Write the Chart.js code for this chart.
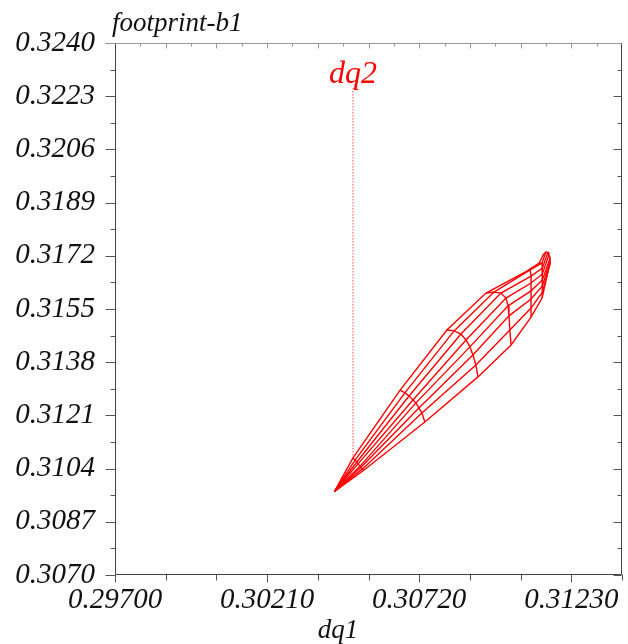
<!DOCTYPE html>
<html lang="en">
<head>
<meta charset="UTF-8">
<title>footprint-b1</title>
<script src="https://cdn.jsdelivr.net/npm/chart.js"></script>
<style>
  body { margin: 0; background: #fff; }
  #wrap { width: 628px; height: 644px; }
</style>
</head>
<body>
<div id="wrap"><canvas id="myChart" width="628" height="644"></canvas></div>
<script>
// axis ticks
const xTicks = [0.29700, 0.30210, 0.30720, 0.31230];
const yTicks = [0.3070, 0.3087, 0.3104, 0.3121, 0.3138, 0.3155, 0.3172, 0.3189, 0.3206, 0.3223, 0.3240];

// footprint mesh: every ring starts at the origin, node j lies on angle line j
const originX = 0.30436, originY = 0.30967;
const ring1X = [0.30498, 0.30505, 0.30511, 0.30515, 0.30522, 0.30525, 0.30530, 0.30533];
const ring1Y = [0.31074, 0.31067, 0.31061, 0.31055, 0.31048, 0.31044, 0.31039, 0.31034];
const ring2X = [0.30656, 0.30672, 0.30686, 0.30699, 0.30709, 0.30719, 0.30729, 0.30739];
const ring2Y = [0.31291, 0.31282, 0.31272, 0.31259, 0.31250, 0.31234, 0.31218, 0.31189];
const ring3X = [0.30813, 0.30837, 0.30860, 0.30877, 0.30890, 0.30900, 0.30910, 0.30917];
const ring3Y = [0.31483, 0.31480, 0.31470, 0.31451, 0.31429, 0.31403, 0.31371, 0.31333];
const ring4X = [0.30944, 0.30971, 0.30994, 0.31011, 0.31018, 0.31021, 0.31024, 0.31028];
const ring4Y = [0.31601, 0.31604, 0.31601, 0.31585, 0.31560, 0.31528, 0.31483, 0.31435];
const ring5X = [0.31081, 0.31092, 0.31095, 0.31095, 0.31095, 0.31095, 0.31095, 0.31095];
const ring5Y = [0.31671, 0.31675, 0.31655, 0.31633, 0.31608, 0.31582, 0.31553, 0.31524];
const ring6X = [0.31122, 0.31132, 0.31133, 0.31133, 0.31133, 0.31133, 0.31133, 0.31132];
const ring6Y = [0.31697, 0.31697, 0.31681, 0.31662, 0.31643, 0.31624, 0.31604, 0.31585];
const ring7X = [0.31138, 0.31145, 0.31152, 0.31155, 0.31159, 0.31159, 0.31159, 0.31157];
const ring7Y = [0.31726, 0.31732, 0.31731, 0.31723, 0.31713, 0.31703, 0.31695, 0.31691];

// dotted dq2 marker line
const dq2X = [0.30498, 0.30498];
const dq2Y = [0.32256, 0.31074];

const rings = [[ring1X, ring1Y], [ring2X, ring2Y], [ring3X, ring3Y], [ring4X, ring4Y],
               [ring5X, ring5Y], [ring6X, ring6Y], [ring7X, ring7Y]];

const RED = '#ff0000';
const datasets = [];

// angle lines
for (let j = 0; j < ring1X.length; j++) {
    const pts = [{x: originX, y: originY}];
    rings.forEach(r => pts.push({x: r[0][j], y: r[1][j]}));
    datasets.push({data: pts, showLine: true, borderColor: RED, borderWidth: 1.4, pointRadius: 0, tension: 0});
}
// amplitude rings
rings.forEach(r => {
    const pts = r[0].map((v, i) => ({x: v, y: r[1][i]}));
    datasets.push({data: pts, showLine: true, borderColor: RED, borderWidth: 1.4, pointRadius: 0, tension: 0});
});
datasets.push({
    data: dq2X.map((v, i) => ({x: v, y: dq2Y[i]})),
    showLine: true, borderColor: 'rgba(255,0,0,0.55)', borderWidth: 1.3,
    borderDash: [1.5, 1.5], pointRadius: 0
});

const serif = "'Liberation Serif', 'DejaVu Serif', serif";

const frame = {
    id: 'frame',
    afterDraw(chart) {
        const {ctx, chartArea: a, scales: {x, y}} = chart;
        ctx.save();
        ctx.lineWidth = 1;
        ctx.strokeStyle = '#555';
        const L = Math.round(a.left) + 0.5, R = Math.round(a.right) - 0.5;
        const T = Math.round(a.top) + 0.5, B = Math.round(a.bottom) - 0.5;

        ctx.beginPath();
        // left + right ticks
        for (let k = 0; k <= 20; k++) {
            const py = Math.round(y.getPixelForValue(0.307 + k * 0.00085)) + 0.5;
            const major = k % 2 === 0;
            ctx.moveTo(L - (major ? 10 : 5), py); ctx.lineTo(L, py);
            ctx.moveTo(R - (major ? 8 : 4), py); ctx.lineTo(R, py);
        }
        // bottom ticks
        for (let k = 0; k <= 10; k++) {
            const px = Math.round(x.getPixelForValue(0.297 + k * 0.0017)) + 0.5;
            ctx.moveTo(px, B); ctx.lineTo(px, B + (k % 3 === 0 ? 8 : 6));
        }
        ctx.stroke();

        ctx.beginPath();
        ctx.strokeStyle = '#999';
        for (let k = 1; k < 20; k++) {
            const px = Math.round(x.getPixelForValue(0.297 + k * 0.00085)) + 0.5;
            ctx.moveTo(px, T); ctx.lineTo(px, T + (k % 2 === 0 ? 5 : 3));
        }
        ctx.moveTo(L - 10, T); ctx.lineTo(R, T);
        ctx.stroke();

        ctx.beginPath();
        ctx.strokeStyle = '#444';
        ctx.moveTo(L, T); ctx.lineTo(L, B); ctx.lineTo(R, B); ctx.lineTo(R, T);
        ctx.stroke();

        // texts
        ctx.fillStyle = '#111';
        ctx.font = 'italic 27px ' + serif;
        ctx.textAlign = 'left';
        ctx.textBaseline = 'alphabetic';
        ctx.fillText('footprint-b1', 112, 31);

        ctx.font = 'italic 27px ' + serif;
        ctx.textAlign = 'center';
        ctx.textBaseline = 'middle';
        ctx.fillText('dq1', 338, 631);

        ctx.fillStyle = RED;
        ctx.font = 'italic 32px ' + serif;
        ctx.fillText('dq2', x.getPixelForValue(dq2X[0]), y.getPixelForValue(0.32298));
        ctx.restore();
    }
};

const ctx = document.getElementById('myChart').getContext('2d');
new Chart(ctx, {
    type: 'scatter',
    data: {datasets: datasets},
    options: {
        responsive: false,
        animation: false,
        layout: {padding: {left: 0, right: 6, top: 43, bottom: 0}},
        plugins: {legend: {display: false}, tooltip: {enabled: false}},
        scales: {
            x: {
                type: 'linear', min: 0.297, max: 0.314,
                afterBuildTicks: s => { s.ticks = xTicks.map(v => ({value: v})); },
                afterFit: s => { s.height = 69; },
                grid: {display: false, drawTicks: false},
                border: {display: false},
                ticks: {
                    autoSkip: false, maxRotation: 0, padding: 8, color: '#111',
                    font: {family: serif, style: 'italic', size: 29},
                    callback: v => v.toFixed(5)
                }
            },
            y: {
                type: 'linear', min: 0.307, max: 0.324,
                afterBuildTicks: s => { s.ticks = yTicks.map(v => ({value: v})); },
                afterFit: s => { s.width = 115; },
                grid: {display: false, drawTicks: false},
                border: {display: false},
                ticks: {
                    autoSkip: false, padding: 20, color: '#111',
                    font: {family: serif, style: 'italic', size: 29},
                    callback: v => v.toFixed(4)
                }
            }
        }
    },
    plugins: [frame]
});
</script>
</body>
</html>
